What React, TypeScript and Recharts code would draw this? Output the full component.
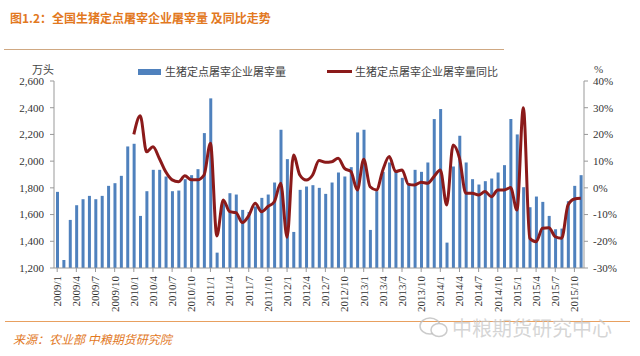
import React from "react";
import { Bar, ComposedChart, Line, XAxis, YAxis } from "recharts";

// 2009/1 - 2015/11
const years = [2009, 2010, 2011, 2012, 2013, 2014, 2015];
const months = years.flatMap((y) =>
  Array.from({ length: 12 }, (_, i) => `${y}/${i + 1}`)
).slice(0, 83);

// 万头
const slaughter = [
  1770, 1260, 1560, 1670, 1715, 1740, 1715, 1740, 1815, 1835, 1890, 2110,
  2130, 1590, 1775, 1935, 1935, 1885, 1775, 1780, 1865, 1895, 1940, 2210,
  2470, 1315, 1700, 1760, 1750, 1635, 1620, 1660, 1725, 1750, 1840, 2235,
  2015, 1470, 1785, 1810, 1820, 1800, 1755, 1840, 1915, 1885, 1955, 2215,
  2235, 1485, 1775, 1920, 1990, 1920, 1875, 1835, 1935, 1920, 1990, 2315,
  2390, 1390, 1960, 2190, 1990, 1865, 1825, 1850, 1870, 1915, 1970, 2315,
  2200, 1805, 1655, 1735, 1695, 1590, 1490, 1495, 1700, 1815, 1895,
];

// 同比 %
const yoy: (number | null)[] = [
  null, null, null, null, null, null, null, null, null, null, null, null,
  20, 27, 13.5, 15.4, 11, 6, 3, 2.3, 4.5, 3, 3, 4.8,
  16.7, -18, -4.5, -8.9, -9.3, -13, -10.4, -5.8, -8.9, -7, -5.2, 1.7,
  -18.5, 12.3, 4.8, 2.9, 4.8, 10.2, 9.6, 9.8, 11.1, 7.3, 6.1, -0.8,
  10.7, 0.4, -0.8, 6.7, 11.7, 6.1, 6.7, 1.3, 1.1, 2.1, 1.7, 4.2,
  6.7, -6.4, 16, 11.1, -2, -2, -2.7, -1.4, -3.3, -0.8, -0.8, 0.1,
  -8.3, 30, -18.9, -20.2, -15.1, -14.9, -18.3, -18.9, -6.4, -4.2, -3.9,
];

const leftTicks = [1200, 1400, 1600, 1800, 2000, 2200, 2400, 2600];
const rightTicks = [-30, -20, -10, 0, 10, 20, 30, 40];

const data = months.map((m, i) => ({ month: m, vol: slaughter[i], yoy: yoy[i] }));

const serif = "'Liberation Serif', 'DejaVu Serif', serif";
const cjk = "'Noto Sans CJK SC', sans-serif";

const MonthTick = (props: any) => {
  const { x, y, payload } = props;
  return (
    <text
      x={x}
      y={y + 2}
      transform={`rotate(-90, ${x}, ${y + 2})`}
      textAnchor="end"
      dy="0.35em"
      fontSize={11}
      fontFamily={serif}
      fill="#333"
    >
      {payload.value}
    </text>
  );
};

const label = (left: number, top: number, extra = {}) => ({
  position: "absolute" as const,
  left,
  top,
  fontFamily: cjk,
  fontSize: 11,
  lineHeight: "11px",
  color: "#444",
  whiteSpace: "nowrap" as const,
  ...extra,
});

export default function App() {
  return (
    <div
      style={{
        position: "absolute",
        left: 0,
        top: 0,
        width: 640,
        height: 356,
        background: "#fff",
        overflow: "hidden",
      }}
    >
      <div
        style={{
          position: "absolute",
          left: 10,
          top: 9,
          fontFamily: cjk,
          fontWeight: 700,
          fontSize: 12,
          color: "#e2791f",
          whiteSpace: "nowrap",
        }}
      >
        图1.2：全国生猪定点屠宰企业屠宰量 及同比走势
      </div>
      <div
        style={{
          position: "absolute",
          left: 4,
          top: 49,
          width: 500,
          height: 1,
          background: "#cfa882",
        }}
      />

      <ComposedChart
        width={640}
        height={356}
        data={data}
        margin={{ top: 81, right: 10, bottom: 38, left: 10 }}
      >
        <XAxis
          dataKey="month"
          interval={2}
          height={50}
          tick={<MonthTick />}
          tickSize={4}
          axisLine={{ stroke: "#999" }}
          tickLine={{ stroke: "#999" }}
        />
        <YAxis
          yAxisId="left"
          width={44}
          domain={[1200, 2600]}
          ticks={leftTicks}
          tickFormatter={(v: number) => v.toLocaleString("en-US")}
          tick={{ fontSize: 11, fontFamily: serif, fill: "#333" }}
          tickSize={4}
          tickMargin={6}
          axisLine={{ stroke: "#999" }}
          tickLine={{ stroke: "#999" }}
        />
        <YAxis
          yAxisId="right"
          orientation="right"
          width={46}
          domain={[-30, 40]}
          ticks={rightTicks}
          tickFormatter={(v: number) => `${v}%`}
          tick={{ fontSize: 11, fontFamily: serif, fill: "#333" }}
          tickSize={4}
          tickMargin={5}
          axisLine={{ stroke: "#999" }}
          tickLine={{ stroke: "#999" }}
        />
        <Bar
          yAxisId="left"
          dataKey="vol"
          fill="#4f81bd"
          barSize={3}
          isAnimationActive={false}
        />
        <Line
          yAxisId="right"
          dataKey="yoy"
          type="monotone"
          stroke="#8b1a1a"
          strokeWidth={3}
          dot={false}
          isAnimationActive={false}
        />
      </ComposedChart>

      {/* axis units + legend */}
      <div style={label(32, 64)}>万头</div>
      <div style={label(594, 64, { fontFamily: serif })}>%</div>
      <div style={{ position: "absolute", left: 138, top: 69, width: 23, height: 6, background: "#4f81bd" }} />
      <div style={label(165, 66)}>生猪定点屠宰企业屠宰量</div>
      <div style={{ position: "absolute", left: 327, top: 70, width: 25, height: 3, background: "#8b1a1a" }} />
      <div style={label(355, 66)}>生猪定点屠宰企业屠宰量同比</div>

      {/* footer */}
      <div
        style={{
          position: "absolute",
          left: 5,
          top: 321,
          width: 625,
          height: 1,
          background: "#e8a060",
        }}
      />
      <div
        style={{
          position: "absolute",
          left: 13,
          top: 330,
          fontFamily: cjk,
          fontStyle: "italic",
          fontSize: 12,
          color: "#e2791f",
          whiteSpace: "nowrap",
        }}
      >
        来源：农业部 中粮期货研究院
      </div>
      <div
        style={{
          position: "absolute",
          left: 452,
          top: 313,
          fontFamily: cjk,
          fontSize: 20,
          color: "rgba(200,200,200,0.75)",
          whiteSpace: "nowrap",
        }}
      >
        中粮期货研究中心
      </div>
      <svg
        style={{ position: "absolute", left: 418, top: 314 }}
        width={32}
        height={26}
      >
        <ellipse cx={12} cy={12} rx={10} ry={8} fill="none" stroke="rgba(190,190,190,0.8)" strokeWidth={1.5} />
        <ellipse cx={21} cy={16} rx={8} ry={6.5} fill="#fff" stroke="rgba(190,190,190,0.8)" strokeWidth={1.5} />
      </svg>
    </div>
  );
}
